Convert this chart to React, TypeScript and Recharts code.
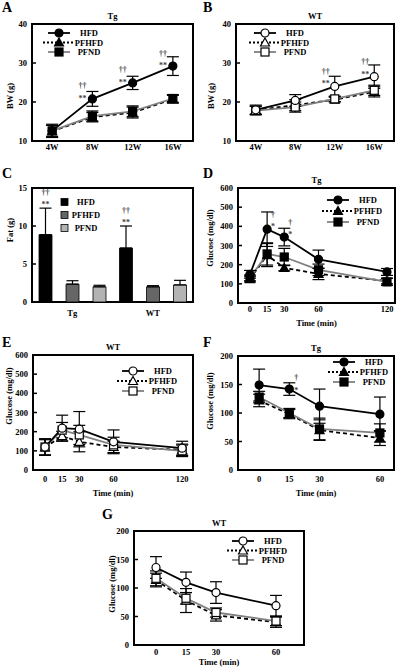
import React from "react";
import {
  LineChart,
  Line,
  BarChart,
  Bar,
  XAxis,
  YAxis,
  ErrorBar,
  ReferenceArea,
  Legend,
  LabelList,
} from "recharts";

const FONT = "'Liberation Serif', 'Times New Roman', serif";

// series names shared by every panel
const seriesNames = ["HFD", "PFHFD", "PFND"];

// A / B: body weight (g)
const weeks = [4, 8, 12, 16];
const weekLabels = ["4W", "8W", "12W", "16W"];
const aHfd = [12.6, 20.8, 24.9, 29.2];
const aHfdErr = [1.7, 1.9, 1.7, 2.4];
const aPfhfd = [12.5, 16.1, 17.3, 20.7];
const aPfhfdErr = [1.5, 1.2, 1.4, 1.0];
const aPfnd = [12.6, 16.4, 17.6, 20.9];
const aPfndErr = [1.4, 1.3, 1.4, 1.0];
const aDagger = ["", "††", "††", "††"];
const aStar = ["", "**", "**", "**"];

const bHfd = [18.0, 20.4, 24.0, 26.5];
const bHfdErr = [1.2, 1.5, 2.6, 3.0];
const bPfhfd = [17.9, 19.2, 20.6, 22.6];
const bPfhfdErr = [1.0, 1.4, 0.6, 1.3];
const bPfnd = [17.8, 18.7, 20.8, 23.0];
const bPfndErr = [1.1, 1.3, 0.7, 1.3];
const bDagger = ["", "", "††", "††"];
const bStar = ["", "", "**", "**"];

// C: fat (g)
const fatGroups = ["Tg", "WT"];
const cHfd = [8.85, 7.1];
const cHfdErr = [3.5, 2.9];
const cPfhfd = [2.35, 2.0];
const cPfhfdErr = [0.45, 0.15];
const cPfnd = [2.0, 2.25];
const cPfndErr = [0.2, 0.6];
const cDagger = ["††", "††"];
const cStar = ["**", "**"];

// D / E: glucose tolerance (mg/dl)
const gttTimes = [0, 15, 30, 60, 120];
const dHfd = [150, 385, 344, 228, 162];
const dHfdErr = [20, 90, 46, 48, 18];
const dPfhfd = [125, 250, 183, 152, 115];
const dPfhfdErr = [15, 60, 15, 30, 15];
const dPfnd = [131, 256, 240, 173, 110];
const dPfndErr = [15, 58, 45, 30, 18];
const dDagger = ["", "†", "†", "", ""];
const dStar = ["", "*", "*", "", ""];

const eHfd = [120, 218, 213, 147, 114];
const eHfdErr = [43, 68, 92, 62, 36];
const ePfhfd = [118, 177, 147, 120, 105];
const ePfhfdErr = [40, 25, 52, 30, 30];
const ePfnd = [120, 208, 183, 131, 100];
const ePfndErr = [42, 40, 50, 40, 30];

// F / G: insulin tolerance (mg/dl)
const ittTimes = [0, 15, 30, 60];
const fHfd = [149, 142, 112, 98];
const fHfdErr = [28, 11, 30, 30];
const fPfhfd = [122, 98, 70, 56];
const fPfhfdErr = [11, 8, 18, 13];
const fPfnd = [128, 100, 72, 65];
const fPfndErr = [10, 8, 19, 16];
const fDagger = ["", "†", "", ""];
const fStar = ["", "*", "", ""];

const gHfd = [136, 110, 92, 69];
const gHfdErr = [19, 18, 19, 18];
const gPfhfd = [114, 78, 52, 40];
const gPfhfdErr = [12, 21, 10, 9];
const gPfnd = [117, 82, 57, 42];
const gPfndErr = [13, 10, 8, 8];

const ML = 34;
const MT = 24;
const MR = 6;
const MB = 30;

const tickStyle = { fontSize: 8.5, fontWeight: 700, fill: "#000", fontFamily: FONT };
const textProps = { fontSize: 8.5, fontWeight: 700, fill: "#000", fontFamily: FONT };
const sigProps = { fontSize: 8, fontWeight: 700, fill: "#444", fontFamily: FONT };

const seriesStyle = [
  { key: "hfd", kind: "circle", stroke: "#000", dash: undefined as string | undefined },
  { key: "pfhfd", kind: "triangle", stroke: "#000", dash: "4 3" },
  { key: "pfnd", kind: "square", stroke: "#808080", dash: undefined as string | undefined },
];

function buildRows(
  xs: number[],
  hfd: number[],
  hfdErr: number[],
  pfhfd: number[],
  pfhfdErr: number[],
  pfnd: number[],
  pfndErr: number[]
) {
  return xs.map((x, i) => ({
    x,
    hfd: hfd[i],
    hfdErr: hfdErr[i],
    pfhfd: pfhfd[i],
    pfhfdErr: pfhfdErr[i],
    pfnd: pfnd[i],
    pfndErr: pfndErr[i],
  }));
}

function Marker({ kind, cx, cy, open }: { kind: string; cx: number; cy: number; open: boolean }) {
  const fill = open ? "#fff" : "#000";
  if (kind === "circle")
    return <circle cx={cx} cy={cy} r={4} fill={fill} stroke="#000" strokeWidth={1.2} />;
  if (kind === "triangle")
    return (
      <polygon
        points={`${cx},${cy - 4.5} ${cx + 4.5},${cy + 3.5} ${cx - 4.5},${cy + 3.5}`}
        fill={fill}
        stroke="#000"
        strokeWidth={1.2}
      />
    );
  return <rect x={cx - 4} y={cy - 4} width={8} height={8} fill={fill} stroke="#000" strokeWidth={1.2} />;
}

function SeriesKey({ open, gap }: { open: boolean; gap: number }) {
  return (
    <svg width={80} height={gap * 2 + 12} style={{ display: "block", overflow: "visible" }}>
      {seriesNames.map((name, i) => {
        const s = seriesStyle[i];
        const cy = 5 + i * gap;
        return (
          <g key={name}>
            <line
              x1={s.dash ? -5 : 0}
              y1={cy}
              x2={s.dash ? 27 : 22}
              y2={cy}
              stroke={s.stroke}
              strokeWidth={1.8}
              strokeDasharray={s.dash ? "2 2" : undefined}
            />
            <Marker kind={s.kind} cx={11} cy={cy} open={open} />
            <text x={41} y={cy + 3} textAnchor="middle" {...textProps}>
              {name}
            </text>
          </g>
        );
      })}
    </svg>
  );
}

type Sig = { dagger: string[]; star: string[]; dx: number; starDy: number; dagDy: number };

function sigContent(sig: Sig) {
  return (p: any) => {
    const i = p.index;
    if (!sig.star[i] && !sig.dagger[i]) return null;
    const vb = p.viewBox || {};
    const x = (vb.x ?? p.x) + sig.dx;
    const y = vb.y ?? p.y;
    return (
      <g key={`sig-${i}`}>
        <text x={x} y={y + sig.dagDy + 2.5} textAnchor="middle" {...sigProps}>
          {sig.dagger[i]}
        </text>
        <text x={x} y={y + sig.starDy + 4} textAnchor="middle" {...sigProps}>
          {sig.star[i]}
        </text>
      </g>
    );
  };
}

type LinePanelProps = {
  box: [number, number, number, number];
  rows: ReturnType<typeof buildRows>;
  xDomain: [number, number];
  xTicks: number[];
  xFormat?: (v: number) => string;
  xTickMargin: number;
  yDomain: [number, number];
  yTicks: number[];
  yLabel: string;
  yLabelAt: [number, number];
  xLabel?: string;
  xLabelDy?: number;
  title: string;
  open: boolean;
  legendAt: [number, number];
  legendGap: number;
  sig?: Sig;
};

function LinePanel(p: LinePanelProps) {
  const [x0, y0, x1, y1] = p.box;
  const w = x1 - x0;
  const h = y1 - y0;
  const left = x0 - ML;
  const top = y0 - MT;
  const order = [1, 2, 0];
  return (
    <div style={{ position: "absolute", left, top }}>
      <LineChart
        width={w + ML + MR}
        height={h + MT + MB}
        data={p.rows}
        margin={{ top: MT, right: MR, left: 0, bottom: 0 }}
      >
        <XAxis
          dataKey="x"
          type="number"
          domain={p.xDomain}
          ticks={p.xTicks}
          tickFormatter={p.xFormat}
          allowDataOverflow
          interval={0}
          axisLine={false}
          tickLine={false}
          tickSize={0}
          tickMargin={p.xTickMargin}
          height={MB}
          tick={tickStyle}
          label={
            p.xLabel
              ? { value: p.xLabel, position: "center", dy: p.xLabelDy ?? 5, ...textProps }
              : undefined
          }
        />
        <YAxis
          type="number"
          domain={p.yDomain}
          ticks={p.yTicks}
          allowDataOverflow
          interval={0}
          width={ML}
          axisLine={false}
          tickSize={-4}
          tickMargin={9}
          tickLine={{ stroke: "#000", strokeWidth: 1.5 }}
          tick={tickStyle}
          label={{
            value: p.yLabel,
            angle: -90,
            position: "center",
            dx: p.yLabelAt[0] - left - ML / 2,
            dy: p.yLabelAt[1] - (y0 + h / 2),
            ...textProps,
          }}
        />
        <ReferenceArea
          x1={p.xDomain[0]}
          x2={p.xDomain[1]}
          y1={p.yDomain[0]}
          y2={p.yDomain[1]}
          fill="none"
          fillOpacity={0}
          stroke="#000"
          strokeWidth={2}
          ifOverflow="visible"
          label={{ value: p.title, position: "top", offset: 5, ...textProps }}
        />
        {order.map((k) => {
          const s = seriesStyle[k];
          return (
            <Line
              key={s.key}
              dataKey={s.key}
              stroke={s.stroke}
              strokeWidth={1.8}
              strokeDasharray={s.dash}
              isAnimationActive={false}
              dot={(d: any) => (
                <Marker key={`${s.key}-${d.index}`} kind={s.kind} cx={d.cx} cy={d.cy} open={p.open} />
              )}
              activeDot={false}
            >
              <ErrorBar dataKey={`${s.key}Err`} direction="y" width={6} stroke="#000" strokeWidth={1.2} />
              {k === 0 && p.sig ? <LabelList dataKey="hfd" content={sigContent(p.sig)} /> : null}
            </Line>
          );
        })}
        <Legend
          layout="vertical"
          align="center"
          verticalAlign="middle"
          wrapperStyle={{ left: p.legendAt[0], top: p.legendAt[1], width: 80 }}
          content={() => <SeriesKey open={p.open} gap={p.legendGap} />}
        />
      </LineChart>
    </div>
  );
}

const fatRows = fatGroups.map((g, i) => ({
  group: g,
  hfd: cHfd[i],
  hfdErr: [0, cHfdErr[i]],
  pfhfd: cPfhfd[i],
  pfhfdErr: [0, cPfhfdErr[i]],
  pfnd: cPfnd[i],
  pfndErr: [0, cPfndErr[i]],
}));

const barFills = ["#000", "#666", "#b3b3b3"];

function FatKey() {
  return (
    <svg width={80} height={36} style={{ display: "block", overflow: "visible" }}>
      {seriesNames.map((name, i) => {
        const cy = 5 + i * 13;
        return (
          <g key={name}>
            <rect x={1} y={cy - 3.5} width={7} height={7} fill={barFills[i]} stroke="#000" strokeWidth={0.8} />
            <text x={26} y={cy + 3} textAnchor="middle" {...textProps}>
              {name}
            </text>
          </g>
        );
      })}
    </svg>
  );
}

function FatPanel() {
  const [x0, y0, x1, y1] = [32, 188, 193, 302];
  const w = x1 - x0;
  const h = y1 - y0;
  const left = x0 - ML;
  const top = y0 - MT;
  const fatSig = (p: any) => {
    const i = p.index;
    const vb = p.viewBox || {};
    const x = vb.x + vb.width / 2;
    const errTop = vb.y - (cHfdErr[i] * vb.height) / cHfd[i];
    return (
      <g key={`fsig-${i}`}>
        <text x={x} y={errTop - 16 + 2.5} textAnchor="middle" {...sigProps}>
          {cDagger[i]}
        </text>
        <text x={x} y={errTop - 5 + 4} textAnchor="middle" {...sigProps}>
          {cStar[i]}
        </text>
      </g>
    );
  };
  return (
    <div style={{ position: "absolute", left, top }}>
      <BarChart
        width={w + ML + MR}
        height={h + MT + MB}
        data={fatRows}
        margin={{ top: MT, right: MR, left: 0, bottom: 0 }}
        barSize={13}
        barGap={14}
      >
        <XAxis
          dataKey="group"
          axisLine={false}
          tickLine={false}
          tickSize={0}
          tickMargin={8}
          height={MB}
          tick={tickStyle}
        />
        <YAxis
          type="number"
          domain={[0, 15]}
          ticks={[0, 5, 10, 15]}
          allowDataOverflow
          interval={0}
          width={ML}
          axisLine={false}
          tickSize={-4}
          tickMargin={9}
          tickLine={{ stroke: "#000", strokeWidth: 1.5 }}
          tick={tickStyle}
          label={{
            value: "Fat (g)",
            angle: -90,
            position: "center",
            dx: 10 - left - ML / 2,
            dy: 230 - (y0 + h / 2),
            ...textProps,
          }}
        />
        {seriesStyle.map((s, k) => (
          <Bar
            key={s.key}
            dataKey={s.key}
            fill={barFills[k]}
            stroke="#000"
            strokeWidth={0.8}
            isAnimationActive={false}
          >
            <ErrorBar dataKey={`${s.key}Err`} direction="y" width={6} stroke="#000" strokeWidth={1.2} />
            {k === 0 ? <LabelList dataKey="hfd" content={fatSig} /> : null}
          </Bar>
        ))}
        <ReferenceArea
          x1="Tg"
          x2="WT"
          y1={0}
          y2={15}
          fill="none"
          fillOpacity={0}
          stroke="#000"
          strokeWidth={2}
          ifOverflow="visible"
        />
        <Legend
          layout="vertical"
          align="center"
          verticalAlign="middle"
          wrapperStyle={{ left: 62, top: 33, width: 80 }}
          content={() => <FatKey />}
        />
      </BarChart>
    </div>
  );
}

const letters: [string, number, number][] = [
  ["A", 2, 2],
  ["B", 203, 2],
  ["C", 2, 168],
  ["D", 203, 168],
  ["E", 2, 337],
  ["F", 203, 337],
  ["G", 102, 509],
];

const weekFormat = (v: number) => weekLabels[weeks.indexOf(v)] ?? String(v);

export default function App() {
  return (
    <div
      style={{
        position: "absolute",
        left: 0,
        top: 0,
        width: 400,
        height: 670,
        background: "#fff",
        fontFamily: FONT,
        overflow: "hidden",
      }}
    >
      {letters.map(([t, x, y]) => (
        <div
          key={t}
          style={{
            position: "absolute",
            left: x,
            top: y,
            fontSize: 14,
            lineHeight: "12px",
            fontWeight: 700,
            fontFamily: FONT,
          }}
        >
          {t}
        </div>
      ))}
      <LinePanel
        box={[32, 24, 193, 141]}
        rows={buildRows(weeks, aHfd, aHfdErr, aPfhfd, aPfhfdErr, aPfnd, aPfndErr)}
        xDomain={[2, 18]}
        xTicks={weeks}
        xFormat={weekFormat}
        xTickMargin={3}
        yDomain={[10, 40]}
        yTicks={[10, 20, 30, 40]}
        yLabel="BW (g)"
        yLabelAt={[10, 96]}
        title="Tg"
        open={false}
        legendAt={[50, 28]}
        legendGap={9.5}
        sig={{ dagger: aDagger, star: aStar, dx: -10, starDy: -2, dagDy: -13 }}
      />
      <LinePanel
        box={[236, 24, 394, 141]}
        rows={buildRows(weeks, bHfd, bHfdErr, bPfhfd, bPfhfdErr, bPfnd, bPfndErr)}
        xDomain={[2, 18]}
        xTicks={weeks}
        xFormat={weekFormat}
        xTickMargin={3}
        yDomain={[10, 40]}
        yTicks={[10, 20, 30, 40]}
        yLabel="BW (g)"
        yLabelAt={[211, 96]}
        title="WT"
        open={true}
        legendAt={[52, 28]}
        legendGap={9.5}
        sig={{ dagger: bDagger, star: bStar, dx: -9, starDy: -4, dagDy: -15 }}
      />
      <FatPanel />
      <LinePanel
        box={[238, 188, 395, 303]}
        rows={buildRows(gttTimes, dHfd, dHfdErr, dPfhfd, dPfhfdErr, dPfnd, dPfndErr)}
        xDomain={[-10.5, 127]}
        xTicks={gttTimes}
        xTickMargin={3}
        yDomain={[0, 600]}
        yTicks={[0, 100, 200, 300, 400, 500, 600]}
        yLabel="Glucose (mg/dl)"
        yLabelAt={[210, 238]}
        xLabel="Time (min)"
        xLabelDy={5}
        title="Tg"
        open={false}
        legendAt={[123, 31]}
        legendGap={11}
        sig={{ dagger: dDagger, star: dStar, dx: 6, starDy: -4, dagDy: -15 }}
      />
      <LinePanel
        box={[33, 355, 193, 470]}
        rows={buildRows(gttTimes, eHfd, eHfdErr, ePfhfd, ePfhfdErr, ePfnd, ePfndErr)}
        xDomain={[-10.5, 129.5]}
        xTicks={gttTimes}
        xTickMargin={6}
        yDomain={[0, 600]}
        yTicks={[0, 100, 200, 300, 400, 500, 600]}
        yLabel="Glucose (mg/dl)"
        yLabelAt={[9, 396]}
        xLabel="Time (min)"
        xLabelDy={8}
        title="WT"
        open={true}
        legendAt={[123, 35]}
        legendGap={10}
      />
      <LinePanel
        box={[238, 356, 394, 470]}
        rows={buildRows(ittTimes, fHfd, fHfdErr, fPfhfd, fPfhfdErr, fPfnd, fPfndErr)}
        xDomain={[-10.5, 67]}
        xTicks={ittTimes}
        xTickMargin={6}
        yDomain={[0, 200]}
        yTicks={[0, 50, 100, 150, 200]}
        yLabel="Glucose (mg/dl)"
        yLabelAt={[210, 401]}
        xLabel="Time (min)"
        xLabelDy={8}
        title="Tg"
        open={false}
        legendAt={[129, 25]}
        legendGap={10}
        sig={{ dagger: fDagger, star: fStar, dx: 7, starDy: 0, dagDy: -12 }}
      />
      <LinePanel
        box={[134, 531, 304, 645]}
        rows={buildRows(ittTimes, gHfd, gHfdErr, gPfhfd, gPfhfdErr, gPfnd, gPfndErr)}
        xDomain={[-11, 74]}
        xTicks={ittTimes}
        xTickMargin={4}
        yDomain={[0, 200]}
        yTicks={[0, 50, 100, 150, 200]}
        yLabel="Glucose (mg/dl)"
        yLabelAt={[112, 584]}
        xLabel="Time (min)"
        xLabelDy={2}
        title="WT"
        open={true}
        legendAt={[132, 29]}
        legendGap={9.5}
      />
    </div>
  );
}
